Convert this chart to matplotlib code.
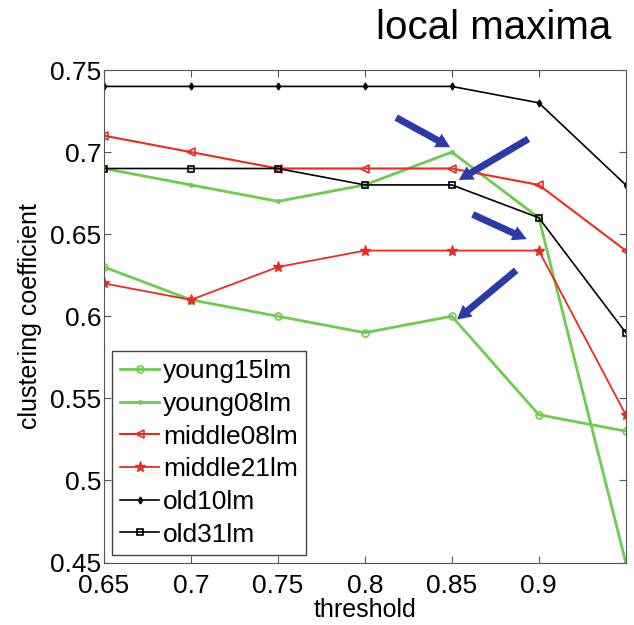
import numpy as np
import matplotlib
matplotlib.use("Agg")
import matplotlib.pyplot as plt

plt.rcParams['font.family'] = ['Liberation Sans', 'DejaVu Sans']

# data
threshold = [0.65, 0.7, 0.75, 0.8, 0.85, 0.9, 0.95]
young15lm = [0.63, 0.61, 0.60, 0.59, 0.60, 0.54, 0.53]
young08lm = [0.69, 0.68, 0.67, 0.68, 0.70, 0.66, 0.45]
middle08lm = [0.71, 0.70, 0.69, 0.69, 0.69, 0.68, 0.64]
middle21lm = [0.62, 0.61, 0.63, 0.64, 0.64, 0.64, 0.54]
old10lm = [0.74, 0.74, 0.74, 0.74, 0.74, 0.73, 0.68]
old31lm = [0.69, 0.69, 0.69, 0.68, 0.68, 0.66, 0.59]

xticks = [0.65, 0.7, 0.75, 0.8, 0.85, 0.9]
xticklabels = ['0.65', '0.7', '0.75', '0.8', '0.85', '0.9']
yticks = [0.45, 0.5, 0.55, 0.6, 0.65, 0.7, 0.75]
yticklabels = ['0.45', '0.5', '0.55', '0.6', '0.65', '0.7', '0.75']

# arrows (tail -> head) in data coords
arrows = [((0.818, 0.721), (0.849, 0.703)),
          ((0.894, 0.708), (0.854, 0.683)),
          ((0.862, 0.662), (0.893, 0.647)),
          ((0.887, 0.628), (0.853, 0.598))]

green = '#6ccc4c'
red = '#ec2a22'

fig = plt.figure(figsize=(6.34, 6.25), dpi=100)
ax = fig.add_axes([0.164, 0.1, 0.823, 0.788])

ax.plot(threshold, young15lm, color=green, lw=2, marker='o', ms=5, mfc='none', mew=1.2, label='young15lm')
ax.plot(threshold, young08lm, color=green, lw=2, marker='.', ms=5, label='young08lm')
ax.plot(threshold, middle08lm, color=red, lw=1.5, marker='<', ms=6, mfc='none', mew=1.2, label='middle08lm')
ax.plot(threshold, middle21lm, color=red, lw=1.3, marker='*', ms=8, label='middle21lm')
ax.plot(threshold, old10lm, color='black', lw=1.2, marker='d', ms=3.5, label='old10lm')
ax.plot(threshold, old31lm, color='black', lw=1.2, marker='s', ms=5, mfc='none', mew=1.2, label='old31lm')

for tail, head in arrows:
    ax.annotate('', xy=head, xytext=tail,
                arrowprops=dict(arrowstyle='simple,head_length=1.0,head_width=1.1,tail_width=0.5',
                                color='#2a3aa8', lw=0, shrinkA=0, shrinkB=0))

ax.set_xlim(0.65, 0.95)
ax.set_ylim(0.45, 0.75)
ax.set_xticks(xticks)
ax.set_xticklabels(xticklabels)
ax.set_yticks(yticks)
ax.set_yticklabels(yticklabels)
ax.tick_params(direction='in', top=True, right=True, labelsize=19, length=5, color='#555555', pad=2)
ax.tick_params(axis='x', pad=8)
for s in ax.spines.values():
    s.set_color('#555555')

ax.set_xlabel('threshold', fontsize=18, labelpad=0)
ax.set_ylabel('clustering coefficient', fontsize=18, labelpad=6)

leg = ax.legend(loc='lower left', fontsize=19, fancybox=False, framealpha=1,
                edgecolor='#444444', borderaxespad=0.3, handlelength=1.5,
                handletextpad=0.15, labelspacing=0.33, borderpad=0.3)
leg.get_frame().set_linewidth(1)

fig.text(0.965, 0.955, 'local maxima', fontsize=29, ha='right', va='center')

plt.savefig('out.png', dpi=100)
